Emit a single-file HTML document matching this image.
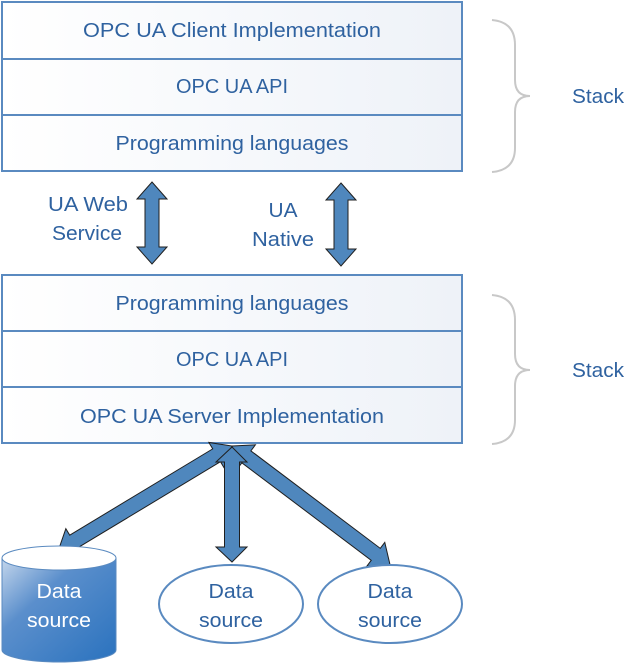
<!DOCTYPE html>
<html><head><meta charset="utf-8"><style>
body{margin:0;background:#fff}
svg{display:block}
text{font-family:"Liberation Sans",sans-serif;font-size:20px;fill:#2f62a0;text-anchor:middle}
</style></head><body>
<svg width="636" height="663" viewBox="0 0 636 663">
<defs>
<linearGradient id="bx" x1="0" y1="0" x2="1" y2="0"><stop offset="0" stop-color="#ffffff"/><stop offset="1" stop-color="#eef2f8"/></linearGradient>
<linearGradient id="cy" x1="0" y1="0" x2="1" y2="1"><stop offset="0" stop-color="#c4d6ec"/><stop offset="0.35" stop-color="#5b8fcc"/><stop offset="1" stop-color="#2a72be"/></linearGradient>
</defs>
<g stroke="#5a8ac0" stroke-width="2" fill="url(#bx)">
<rect x="2" y="2" width="460" height="169"/>
<line x1="2" y1="59" x2="462" y2="59"/><line x1="2" y1="115" x2="462" y2="115"/>
<rect x="2" y="275" width="460" height="168"/>
<line x1="2" y1="331" x2="462" y2="331"/><line x1="2" y1="387" x2="462" y2="387"/>
</g>
<g lengthAdjust="spacingAndGlyphs">
<text x="232" y="37" textLength="298" lengthAdjust="spacingAndGlyphs">OPC UA Client Implementation</text>
<text x="232" y="93" textLength="112" lengthAdjust="spacingAndGlyphs">OPC UA API</text>
<text x="232" y="150" textLength="233" lengthAdjust="spacingAndGlyphs">Programming languages</text>
<text x="232" y="310" textLength="233" lengthAdjust="spacingAndGlyphs">Programming languages</text>
<text x="232" y="366" textLength="112" lengthAdjust="spacingAndGlyphs">OPC UA API</text>
<text x="232" y="423" textLength="304" lengthAdjust="spacingAndGlyphs">OPC UA Server Implementation</text>
</g>
<g fill="none" stroke="#c8c8c8" stroke-width="2">
<path d="M492,20 Q515,22 515,45 L515,80 Q515,96 530,96 Q515,96 515,112 L515,148 Q515,170 492,172"/>
<path d="M492,295 Q515,297 515,320 L515,354 Q515,370 530,370 Q515,370 515,386 L515,420 Q515,442 492,444"/>
</g>
<text x="598" y="103" textLength="52" lengthAdjust="spacingAndGlyphs">Stack</text>
<text x="598" y="377" textLength="52" lengthAdjust="spacingAndGlyphs">Stack</text>
<text x="88" y="211" textLength="80" lengthAdjust="spacingAndGlyphs">UA Web</text>
<text x="87" y="240" textLength="70" lengthAdjust="spacingAndGlyphs">Service</text>
<text x="283" y="217" textLength="29" lengthAdjust="spacingAndGlyphs">UA</text>
<text x="283" y="246" textLength="62" lengthAdjust="spacingAndGlyphs">Native</text>
<g fill="#4f87bd" stroke="#1f1f1f" stroke-width="1">
<polygon points="152,182 167,199 159,199 159,247 167,247 152,264 137,247 145,247 145,199 137,199"/>
<polygon points="341,183 356,200 348,200 348,249 356,249 341,266 326,249 334,249 334,200 326,200"/>
<polygon transform="translate(232,446) rotate(148.9)" points="0,0 18,-15 18,-7.5 185,-7.5 185,-15 203,0 185,15 185,7.5 18,7.5 18,15"/>
<polygon transform="translate(232,446) rotate(37)" points="0,0 18,-15 18,-7.5 180,-7.5 180,-15 198,0 180,15 180,7.5 18,7.5 18,15"/>
<polygon points="232,447 247,462 239.5,462 239.5,547 247,547 232,562 216,547 224.5,547 224.5,462 216,462"/>
</g>
<path d="M2,558 L2,650 A57,12 0 0 0 116,650 L116,558 Z" fill="url(#cy)" stroke="#5a8ac0" stroke-width="1"/>
<ellipse cx="59" cy="558" rx="57" ry="12" fill="#fff" stroke="#5a8ac0" stroke-width="1"/>
<text x="59" y="598" style="fill:#fff" textLength="45" lengthAdjust="spacingAndGlyphs">Data</text>
<text x="59" y="627" style="fill:#fff" textLength="64" lengthAdjust="spacingAndGlyphs">source</text>
<ellipse cx="231" cy="604" rx="72" ry="39" fill="#fff" stroke="#5a8ac0" stroke-width="2"/>
<ellipse cx="390" cy="604" rx="72" ry="39" fill="#fff" stroke="#5a8ac0" stroke-width="2"/>
<text x="231" y="598" textLength="45" lengthAdjust="spacingAndGlyphs">Data</text><text x="231" y="627" textLength="64" lengthAdjust="spacingAndGlyphs">source</text>
<text x="390" y="598" textLength="45" lengthAdjust="spacingAndGlyphs">Data</text><text x="390" y="627" textLength="64" lengthAdjust="spacingAndGlyphs">source</text>
</svg>
</body></html>
